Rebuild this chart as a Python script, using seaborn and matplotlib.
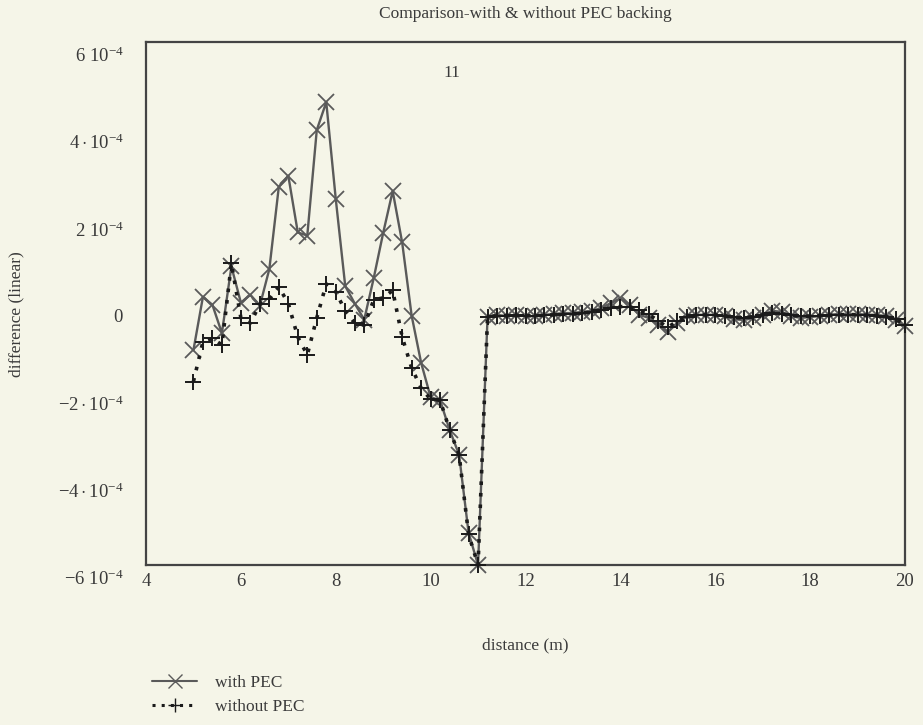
import matplotlib
matplotlib.use("Agg")
import matplotlib.pyplot as plt
import matplotlib.transforms as mtransforms
import seaborn as sns
import numpy as np
from matplotlib.lines import Line2D

distance = [5.0, 5.2, 5.4, 5.6, 5.8, 6.0, 6.2, 6.4, 6.6, 6.8,
            7.0, 7.2, 7.4, 7.6, 7.8, 8.0, 8.2, 8.4, 8.6, 8.8,
            9.0, 9.2, 9.4, 9.6, 9.8, 10.0, 10.2, 10.4, 10.6, 10.8,
            11.0, 11.2, 11.4, 11.6, 11.8, 12.0, 12.2, 12.4, 12.6, 12.8,
            13.0, 13.2, 13.4, 13.6, 13.8, 14.0, 14.2, 14.4, 14.6, 14.8,
            15.0, 15.2, 15.4, 15.6, 15.8, 16.0, 16.2, 16.4, 16.6, 16.8,
            17.0, 17.2, 17.4, 17.6, 17.8, 18.0, 18.2, 18.4, 18.6, 18.8,
            19.0, 19.2, 19.4, 19.6, 19.8, 20.0]

# values in units of 1e-4
with_pec = [-1.07, 0.15, -0.03, -0.68, 0.85, 0.02, 0.20, -0.05, 0.79, 2.68,
            2.93, 1.63, 1.56, 3.98, 4.62, 2.40, 0.40, 0.00, -0.37, 0.58,
            1.62, 2.58, 1.40, -0.28, -1.36, -2.15, -2.22, -2.90, -3.47, -5.26,
            -6.00, -0.31, -0.26, -0.29, -0.26, -0.29, -0.29, -0.26, -0.24, -0.22,
            -0.22, -0.19, -0.17, -0.10, 0.01, 0.12, -0.03, -0.26, -0.33, -0.49,
            -0.65, -0.45, -0.29, -0.26, -0.26, -0.26, -0.29, -0.36, -0.38, -0.33,
            -0.26, -0.17, -0.19, -0.29, -0.33, -0.31, -0.29, -0.26, -0.24, -0.24,
            -0.24, -0.26, -0.26, -0.29, -0.38, -0.52]

without_pec = [-1.79, -0.88, -0.80, -0.95, 0.92, -0.33, -0.45, -0.02, 0.10, 0.38,
               0.00, -0.77, -1.18, -0.33, 0.45, 0.27, -0.17, -0.45, -0.50, 0.08,
               0.13, 0.30, -0.77, -1.48, -1.94, -2.20, -2.22, -2.90, -3.47, -5.30,
               -6.00, -0.30, -0.28, -0.28, -0.27, -0.28, -0.28, -0.27, -0.26, -0.25,
               -0.24, -0.22, -0.20, -0.15, -0.10, -0.07, -0.08, -0.15, -0.25, -0.40,
               -0.55, -0.40, -0.30, -0.27, -0.26, -0.26, -0.28, -0.32, -0.33, -0.30,
               -0.26, -0.22, -0.24, -0.27, -0.29, -0.29, -0.28, -0.27, -0.26, -0.26,
               -0.26, -0.27, -0.28, -0.30, -0.35, -0.50]

x_ticks = [4, 6, 8, 10, 12, 14, 16, 18, 20]
y_ticks = [-6, -4, -2, 0, 2, 4, 6]
y_tick_labels = [r"$-6\ 10^{-4}$", r"$-4\cdot 10^{-4}$", r"$-2\cdot 10^{-4}$", r"$0$",
                 r"$2\ 10^{-4}$", r"$4\cdot 10^{-4}$", r"$6\ 10^{-4}$"]

bg = "#f5f5e8"
sns.set_theme(style="white")
plt.rcParams["font.family"] = ["Liberation Serif", "DejaVu Serif"]
plt.rcParams["mathtext.fontset"] = "custom"
plt.rcParams["mathtext.rm"] = "Liberation Serif"
plt.rcParams["mathtext.it"] = "Liberation Serif"
plt.rcParams["mathtext.default"] = "rm"

fig = plt.figure(figsize=(9.23, 7.25), dpi=100, facecolor=bg)
ax = fig.add_axes([146/923, 1-565/725, (905-146)/923, (565-42)/725])
ax.set_facecolor(bg)

xs = np.array(distance)
yw = np.array(with_pec) * 1e-4
yn = np.array(without_pec) * 1e-4

sns.lineplot(x=xs, y=yw, ax=ax, color="#5a5a5a", linewidth=1.7, marker="x",
             markersize=12, markeredgewidth=1.3, markeredgecolor="#5a5a5a",
             estimator=None, sort=False, clip_on=False, zorder=3)
sns.lineplot(x=xs, y=yn, ax=ax, color="#1a1a1a", linewidth=2.6, linestyle=(0, (1, 2.2)),
             marker="+", markersize=12, markeredgewidth=1.4, markeredgecolor="#1a1a1a",
             estimator=None, sort=False, clip_on=False, zorder=4)

ax.set_xlim(4, 20)
ax.set_ylim(-6e-4, 6e-4)
ax.set_xticks(x_ticks)
ax.set_xticklabels([str(t) for t in x_ticks])
ax.set_yticks([v * 1e-4 for v in y_ticks])
ax.set_yticklabels(y_tick_labels)
ax.tick_params(axis="both", length=0, labelsize=13.5, labelcolor="#3a3a3a")
ax.tick_params(axis="y", pad=16)
ax.tick_params(axis="x", pad=6)
shift = mtransforms.ScaledTranslation(0, -9/72, fig.dpi_scale_trans)
for lab in ax.get_yticklabels():
    lab.set_transform(lab.get_transform() + shift)
for s in ax.spines.values():
    s.set_color("#444444")
    s.set_linewidth(1.6)
    s.set_visible(True)

ax.set_title("Comparison-with & without PEC backing", fontsize=12.5, color="#3a3a3a", pad=17)
ax.set_xlabel("distance (m)", fontsize=12.5, color="#3a3a3a", labelpad=34)
ax.set_ylabel("difference (linear)", fontsize=12.5, color="#3a3a3a")
ax.yaxis.set_label_coords(-0.16, 0.48)
ax.text(10.45, 5.3e-4, "11", fontsize=12.5, color="#3a3a3a", ha="center", va="center")

handles = [Line2D([], [], color="#5a5a5a", linewidth=1.5, marker="x", markersize=10),
           Line2D([], [], color="#1a1a1a", linewidth=2.2, linestyle=(0, (1, 2)),
                  marker="+", markersize=10)]
fig.legend(handles, ["with PEC", "without PEC"], loc="lower left",
           bbox_to_anchor=(0.148, -0.008), frameon=False, fontsize=12.5,
           handlelength=2.6, handletextpad=1.0, labelspacing=0.45, labelcolor="#3a3a3a")

fig.savefig("out.png", dpi=100, facecolor=bg)
